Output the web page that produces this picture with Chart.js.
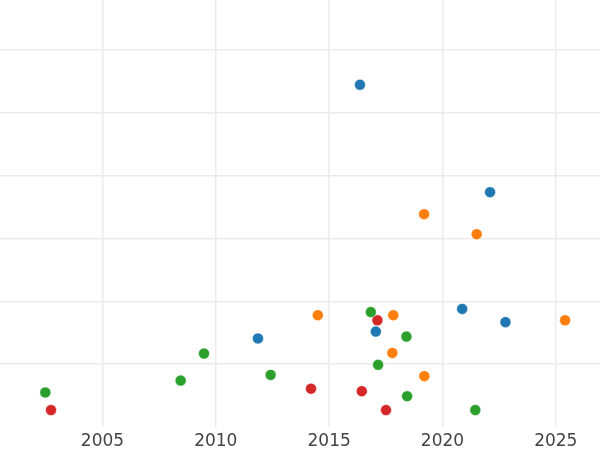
<!DOCTYPE html>
<html>
<head>
<meta charset="utf-8">
<script src="https://cdn.jsdelivr.net/npm/chart.js@4"></script>
<style>
  html, body { margin: 0; padding: 0; background: #fff; }
  #wrap { width: 600px; height: 450px; }
</style>
</head>
<body>
<div id="wrap"><canvas id="chart"></canvas></div>
<script>
// values (x = year, y = value in grid units)
const blueX = [2016.36, 2022.10, 2020.87, 2022.78, 2017.06, 2011.86];
const blueY = [5.45, 3.74, 1.88, 1.67, 1.52, 1.41];
const orangeX = [2019.19, 2021.51, 2014.50, 2017.83, 2025.41, 2017.79, 2019.20];
const orangeY = [3.39, 3.07, 1.78, 1.78, 1.70, 1.18, 0.81];
const greenX = [2016.84, 2018.41, 2017.16, 2018.44, 2021.45, 2009.48, 2008.45, 2012.42, 2002.48];
const greenY = [1.83, 1.44, 0.99, 0.49, 0.27, 1.17, 0.74, 0.83, 0.55];
const redX = [2017.13, 2014.20, 2016.44, 2017.51, 2002.73];
const redY = [1.70, 0.61, 0.57, 0.27, 0.27];

const xTicks = [2005, 2010, 2015, 2020, 2025];
const yTicks = [1, 2, 3, 4, 5, 6];

const pts = (xs, ys) => xs.map((x, i) => ({ x: x, y: ys[i] }));

const series = [
    { data: pts(blueX, blueY), color: "#1f77b4" },
    { data: pts(orangeX, orangeY), color: "#ff7f0e" },
    { data: pts(greenX, greenY), color: "#2ca02c" },
    { data: pts(redX, redY), color: "#d62728" }
];

Chart.defaults.font.family = "'DejaVu Sans', sans-serif";

const gridStyle = { color: "#ebebeb", lineWidth: 1.5, drawTicks: false };

new Chart(document.getElementById("chart"), {
    type: "scatter",
    data: {
        datasets: series.map(s => ({
            data: s.data,
            backgroundColor: s.color,
            borderColor: "#ffffff",
            borderWidth: 0.5,
            pointRadius: 5.5,
            pointHoverRadius: 5.5
        }))
    },
    options: {
        responsive: true,
        maintainAspectRatio: false,
        animation: false,
        layout: { padding: 0, autoPadding: false },
        plugins: { legend: { display: false }, tooltip: { enabled: false } },
        scales: {
            x: {
                type: "linear",
                min: 2000.48,
                max: 2026.95,
                grid: gridStyle,
                border: { display: false },
                afterBuildTicks: axis => { axis.ticks = xTicks.map(v => ({ value: v })); },
                afterFit: axis => { axis.height = 23; }, // plot bottom sits at y=427
                ticks: {
                    padding: 4,
                    color: "#444444",
                    font: { size: 17 },
                    maxRotation: 0,
                    callback: v => String(v)
                }
            },
            y: {
                min: 0,
                max: 6.8,
                grid: gridStyle,
                border: { display: false },
                afterBuildTicks: axis => { axis.ticks = yTicks.map(v => ({ value: v })); },
                ticks: { display: false }
            }
        }
    }
});
</script>
</body>
</html>
